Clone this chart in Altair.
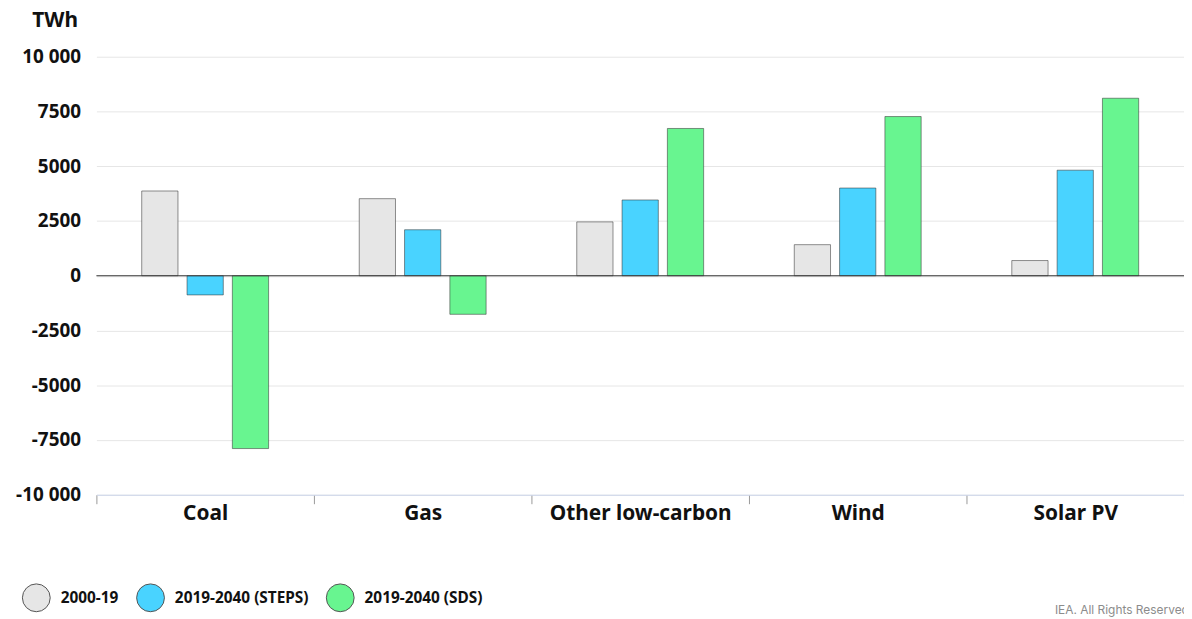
import altair as alt
import pandas as pd

categories = ["Coal", "Gas", "Other low-carbon", "Wind", "Solar PV"]
series_names = ["2000-19", "2019-2040 (STEPS)", "2019-2040 (SDS)"]
hist_2000_19 = [3870, 3520, 2460, 1420, 695]
steps_2019_40 = [-875, 2100, 3460, 4005, 4820]
sds_2019_40 = [-7890, -1760, 6725, 7270, 8105]
y_ticks = [-10000, -7500, -5000, -2500, 0, 2500, 5000, 7500, 10000]
colors = ["#e6e6e6", "#49d3ff", "#68f590"]

rows = []
for name, vals in zip(series_names, [hist_2000_19, steps_2019_40, sds_2019_40]):
    for c, v in zip(categories, vals):
        rows.append({"category": c, "series": name, "value": v})
df = pd.DataFrame(rows)

FONT = "Noto Sans"
W, H = 1095, 441

label_expr = (
    "replace(abs(datum.value) >= 10000 ? replace(format(datum.value, ','), ',', ' ')"
    " : format(datum.value, 'd'), '\u2212', '-')"
)

bars = alt.Chart(df).mark_bar(stroke="#333", strokeOpacity=0.55, strokeWidth=1).encode(
    x=alt.X("category:N", sort=categories,
            scale=alt.Scale(paddingInner=0, paddingOuter=0),
            axis=alt.Axis(title=None, labelAngle=0, labelFont=FONT, labelFontSize=21,
                          labelFontWeight="bold", labelColor="#111", labelPadding=-1,
                          labelLimit=400,
                          domainColor="#ccd6eb", tickColor="#999", tickSize=9,
                          tickBand="extent", grid=False)),
    xOffset=alt.XOffset("series:N", sort=series_names,
                        scale=alt.Scale(paddingInner=0.2, paddingOuter=1)),
    y=alt.Y("value:Q", scale=alt.Scale(domain=[-10000, 10000], nice=False),
            axis=alt.Axis(values=y_ticks, grid=True, gridColor="#e6e6e6", domain=False,
                          ticks=False, labelPadding=16, labelFont=FONT, labelFontSize=19,
                          labelFontWeight="bold", labelColor="#111",
                          labelExpr=label_expr,
                          title="TWh", titleAngle=0, titleX=-19, titleY=-36,
                          titleAlign="right", titleBaseline="middle", titleFont=FONT,
                          titleFontSize=21, titleFontWeight="bold", titleColor="#111")),
    color=alt.Color("series:N", sort=series_names,
                    scale=alt.Scale(domain=series_names, range=colors),
                    legend=alt.Legend(title=None, orient="none", legendX=-75, legendY=530,
                                      direction="horizontal", symbolType="circle",
                                      symbolSize=784, symbolStrokeColor="#555",
                                      symbolStrokeWidth=1, labelFont=FONT,
                                      labelFontSize=15.5, labelFontWeight="bold",
                                      labelColor="#111", labelOffset=10,
                                      columnPadding=15)),
)

zero = alt.Chart(pd.DataFrame({"y": [0]})).mark_rule(color="#333", strokeWidth=1).encode(y="y:Q")

credit = alt.Chart(pd.DataFrame({"t": ["IEA. All Rights Reserved"]})).mark_text(
    align="left", baseline="middle", fontSize=12, color="#8c8c8c", font="Inter"
).encode(text="t:N", x=alt.value(965), y=alt.value(557))

chart = alt.layer(bars, zero, credit).properties(
    width=W, height=H,
    autosize=alt.AutoSizeParams(type="none"),
    padding={"left": 89, "top": 47, "right": 0, "bottom": 123},
).configure_view(stroke=None)

chart.save("out.html", embed_options={"renderer": "svg", "actions": False})
